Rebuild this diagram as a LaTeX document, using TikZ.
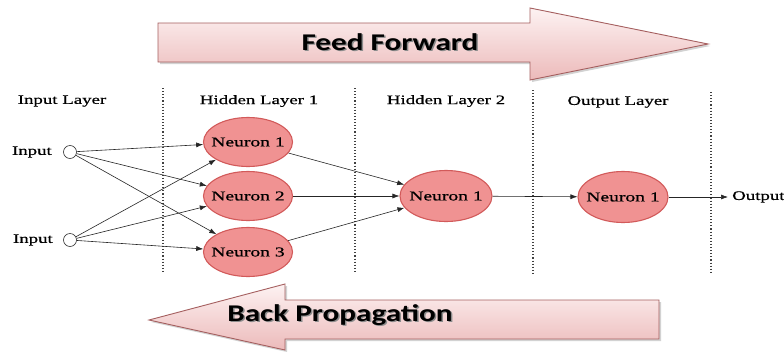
\documentclass[tikz,border=0pt]{standalone}
\usepackage{fontspec}
\setmainfont{Liberation Serif}
\newfontfamily\lblfont[FakeStretch=1.45,FakeBold=0.6]{Liberation Serif}
\newfontfamily\arrfont[FakeStretch=1.3]{Carlito}
\usetikzlibrary{shadows,arrows.meta,shapes.geometric}
\definecolor{nfill}{RGB}{240,146,146}
\definecolor{nedge}{RGB}{210,90,90}
\definecolor{aedge}{RGB}{165,95,95}
\definecolor{atop}{RGB}{253,242,242}
\definecolor{abot}{RGB}{236,186,186}
\newcommand{\ntext}[1]{\makebox[0pt]{#1}}
\begin{document}
\begin{tikzpicture}[x=1pt,y=-1pt,
  neuron/.style={ellipse,draw=nedge,line width=1.1pt,fill=nfill,minimum width=89pt,minimum height=49pt,inner sep=0pt,font=\lblfont\fontsize{13.5}{15}\selectfont},
  inp/.style={circle,draw=black!80,line width=0.6pt,fill=white,minimum size=13pt,inner sep=0pt},
  lbl/.style={font=\lblfont\fontsize{13}{15}\selectfont,inner sep=0pt},
  layerlbl/.style={font=\lblfont\fontsize{13}{15}\selectfont,inner sep=0pt},
  conn/.style={draw=black!85,line width=0.6pt,-{Latex[length=7pt,width=5pt]}},
  sep/.style={draw=black!75,line width=1.1pt,dotted},
  bigarrow/.style={draw=aedge,line width=0.9pt,top color=atop,bottom color=abot,line join=miter,
     drop shadow={opacity=0.35,shadow xshift=2pt,shadow yshift=-2pt}},
  arrtext/.style={font=\arrfont\bfseries\fontsize{24}{27}\selectfont,inner sep=0pt},
  arrshadow/.style={arrtext,text=black!45}
]
\path[use as bounding box,fill=white] (0,0) rectangle (784,351);

% Feed forward arrow
\path[bigarrow] (158,23) -- (530,23) -- (530,8) -- (708,44) -- (530,80) -- (530,62) -- (158,62) -- cycle;
\node[arrshadow] (ffs) at (391.5,43.5) {Feed Forward};
\node[arrtext] (ff) at (390,42) {Feed Forward};

% Back propagation arrow
\path[bigarrow] (659,300) -- (285,300) -- (285,284) -- (149,320) -- (285,350) -- (285,339) -- (659,339) -- cycle;
\node[arrshadow] (bps) at (341.5,316.5) {Back Propagation};
\node[arrtext] (bp) at (340,315) {Back Propagation};

% separators
\coordinate (s1a) at (163,88); \coordinate (s1b) at (163,273);
\coordinate (s2a) at (355,88); \coordinate (s2b) at (355,273);
\coordinate (s3a) at (533,90); \coordinate (s3b) at (533,275);
\coordinate (s4a) at (711,92); \coordinate (s4b) at (711,273);
\draw[sep] (s1a) -- (s1b);
\draw[sep] (s2a) -- (s2b);
\draw[sep] (s3a) -- (s3b);
\draw[sep] (s4a) -- (s4b);

% layer labels
\node[layerlbl] (l1) at (62,101) {Input Layer};
\node[layerlbl] (l2) at (259,101) {Hidden Layer 1};
\node[layerlbl] (l3) at (446,101) {Hidden Layer 2};
\node[layerlbl] (l4) at (618,102) {Output Layer};

% inputs
\node[inp] (i1) at (70,152) {};
\node[inp] (i2) at (70,240) {};
\node[lbl,anchor=east] (t1) at (52,152) {Input};
\node[lbl,anchor=east] (t2) at (53,240) {Input};

% neurons
\node[neuron] (h1) at (248,142) {\ntext{Neuron 1}};
\node[neuron] (h2) at (248,196) {\ntext{Neuron 2}};
\node[neuron] (h3) at (248,252) {\ntext{Neuron 3}};
\node[neuron,minimum width=92pt,minimum height=51pt] (k1) at (446,196) {\ntext{Neuron 1}};
\node[neuron,minimum width=90pt,minimum height=51pt] (o1) at (623,197) {\ntext{Neuron 1}};
\coordinate (out) at (728,197);
\node[lbl,anchor=west] (ot) at (732,197) {Output};

% connections
\draw[conn] (i1) -- (h1);
\draw[conn] (i1) -- (h2);
\draw[conn] (i1) -- (h3);
\draw[conn] (i2) -- (h1);
\draw[conn] (i2) -- (h2);
\draw[conn] (i2) -- (h3);
\draw[conn] (h1) -- (k1);
\draw[conn] (h2) -- (k1);
\draw[conn] (h3) -- (k1);
\draw[conn] (k1) -- (o1);
\draw[conn] (o1) -- (out);
\end{tikzpicture}
\end{document}
